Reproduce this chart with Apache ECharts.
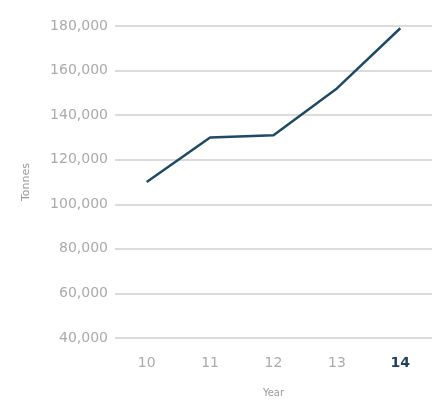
<!DOCTYPE html>
<html>
<head>
<meta charset="utf-8">
<script src="https://cdn.jsdelivr.net/npm/echarts@6/dist/echarts.min.js"></script>
<style>
  html, body { margin: 0; padding: 0; background: #fff; }
  #chart { width: 441px; height: 403px; }
</style>
</head>
<body>
<div id="chart"></div>
<script>
// Annual tonnage by year
const years = ['10', '11', '12', '13', '14'];
const tonnes = [110000, 130000, 131000, 152000, 179000];
const highlightYear = '14';

const chart = echarts.init(document.getElementById('chart'), null, { renderer: 'canvas' });

chart.setOption({
  animation: false,
  grid: { left: 115, right: 9, top: 26, bottom: 62 },
  xAxis: {
    type: 'category',
    data: years,
    boundaryGap: true,
    name: 'Year',
    nameLocation: 'middle',
    nameGap: 50,
    nameTextStyle: { color: '#999', fontSize: 10, fontFamily: 'DejaVu Sans' },
    axisLine: { show: false },
    axisTick: { show: false },
    axisLabel: {
      interval: 0,
      margin: 18,
      fontSize: 14,
      fontFamily: 'DejaVu Sans',
      color: '#aaa',
      formatter: v => v === highlightYear ? '{hl|' + v + '}' : v,
      rich: {
        hl: { fontSize: 14, fontWeight: 'bold', color: '#1f3f5f', fontFamily: 'DejaVu Sans' }
      }
    }
  },
  yAxis: {
    type: 'value',
    min: 40000,
    max: 180000,
    interval: 20000,
    name: 'Tonnes',
    nameLocation: 'middle',
    nameGap: 83,
    nameRotate: 90,
    nameTextStyle: { color: '#999', fontSize: 11, fontFamily: 'DejaVu Sans' },
    axisLine: { show: false },
    axisTick: { show: false },
    axisLabel: {
      margin: 7,
      fontSize: 14,
      fontFamily: 'DejaVu Sans',
      color: '#aaa',
      formatter: v => v.toLocaleString('en-US')
    },
    splitLine: { lineStyle: { color: '#cfcfcf', width: 1.5 } }
  },
  series: [{
    type: 'line',
    data: tonnes,
    showSymbol: false,
    lineStyle: { color: '#1f4a63', width: 2.5 }
  }]
});
</script>
</body>
</html>
